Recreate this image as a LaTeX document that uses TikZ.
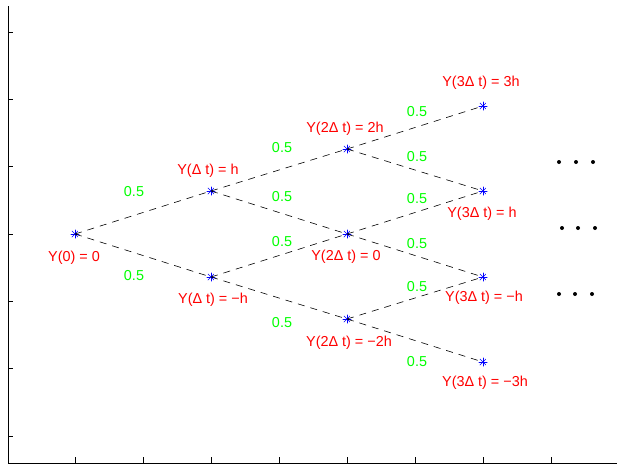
\documentclass[tikz,border=0pt]{standalone}
\usepackage{fontspec}
\setmainfont{Liberation Sans}
\usetikzlibrary{positioning}
\definecolor{mlred}{RGB}{255,0,0}
\definecolor{mlgreen}{RGB}{0,255,0}
\definecolor{mlblue}{RGB}{0,0,255}

\begin{document}
\begin{tikzpicture}[x=1pt, y=-1pt,
    state/.style={circle, inner sep=0pt, minimum size=9pt,
      path picture={\foreach \a in {0,45,90,135}
        \draw[mlblue, line width=0.6pt] ([shift={(\a:5pt)}]path picture bounding box.center)
          -- ([shift={(\a+180:5pt)}]path picture bounding box.center);}},
    branch/.style={black, line width=0.6pt, dash pattern=on 7pt off 6pt},
    val/.style={font=\fontsize{14.4}{16}\selectfont, text=mlred, inner sep=0pt},
    prob/.style={font=\fontsize{14.4}{16}\selectfont, text=mlgreen, inner sep=0pt},
    axis/.style={black, line width=0.7pt}]
    \useasboundingbox (0,0) rectangle (617,464);
    % Axes and ticks
    \draw[axis] (8,6) -- (8,463) -- (617,463);
    \foreach \k in {0,...,6}
        \draw[axis] (8,32+67.33*\k) -- (13,32+67.33*\k);
    \foreach \k in {0,...,7}
        \draw[axis] (75+68*\k,463) -- (75+68*\k,457);
    % Tree states
    \node[state] (s0) at (75,234) {};
    \node[state] (u1) at (211,191) {};
    \node[state] (d1) at (211,277) {};
    \node[state] (uu2) at (347,149) {};
    \node[state] (m2) at (347,234) {};
    \node[state] (dd2) at (347,319) {};
    \node[state] (uuu3) at (483,106) {};
    \node[state] (u3) at (483,191) {};
    \node[state] (d3) at (483,277) {};
    \node[state] (ddd3) at (483,362) {};
    % Branches
    \foreach \a/\b in {s0/u1, s0/d1, u1/uu2, u1/m2, d1/m2, d1/dd2,
                       uu2/uuu3, uu2/u3, m2/u3, m2/d3, dd2/d3, dd2/ddd3}
        \draw[branch] (\a.center) -- (\b.center);
    % State values
    \node[val] (l0) at (74,258) {Y(0) = 0};
    \node[val] (lu1) at (208,171) {Y(Δ t) = h};
    \node[val] (ld1) at (213,300) {Y(Δ t) = −h};
    \node[val] (luu2) at (345,129) {Y(2Δ t) = 2h};
    \node[val] (lm2) at (346,257) {Y(2Δ t) = 0};
    \node[val] (ldd2) at (349,343) {Y(2Δ t) = −2h};
    \node[val] (luuu3) at (481,83) {Y(3Δ t) = 3h};
    \node[val] (lu3) at (482,214) {Y(3Δ t) = h};
    \node[val] (ld3) at (484,298) {Y(3Δ t) = −h};
    \node[val] (lddd3) at (485,383) {Y(3Δ t) = −3h};
    % Probabilities
    \foreach \y [count=\i] in {192,276}
        \node[prob] (p1\i) at (134,\y) {0.5};
    \foreach \y [count=\i] in {148,197,242,323}
        \node[prob] (p2\i) at (282,\y) {0.5};
    \foreach \y [count=\i] in {112,157,199,244,287,362}
        \node[prob] (p3\i) at (417,\y) {0.5};
    % Continuation dots
    \foreach \x/\y in {559/162, 576/162, 593/162, 562/228, 578/228, 595/228,
                       559/294, 575/294, 592/294}
        \fill (\x,\y) circle (2pt);
\end{tikzpicture}
\end{document}
